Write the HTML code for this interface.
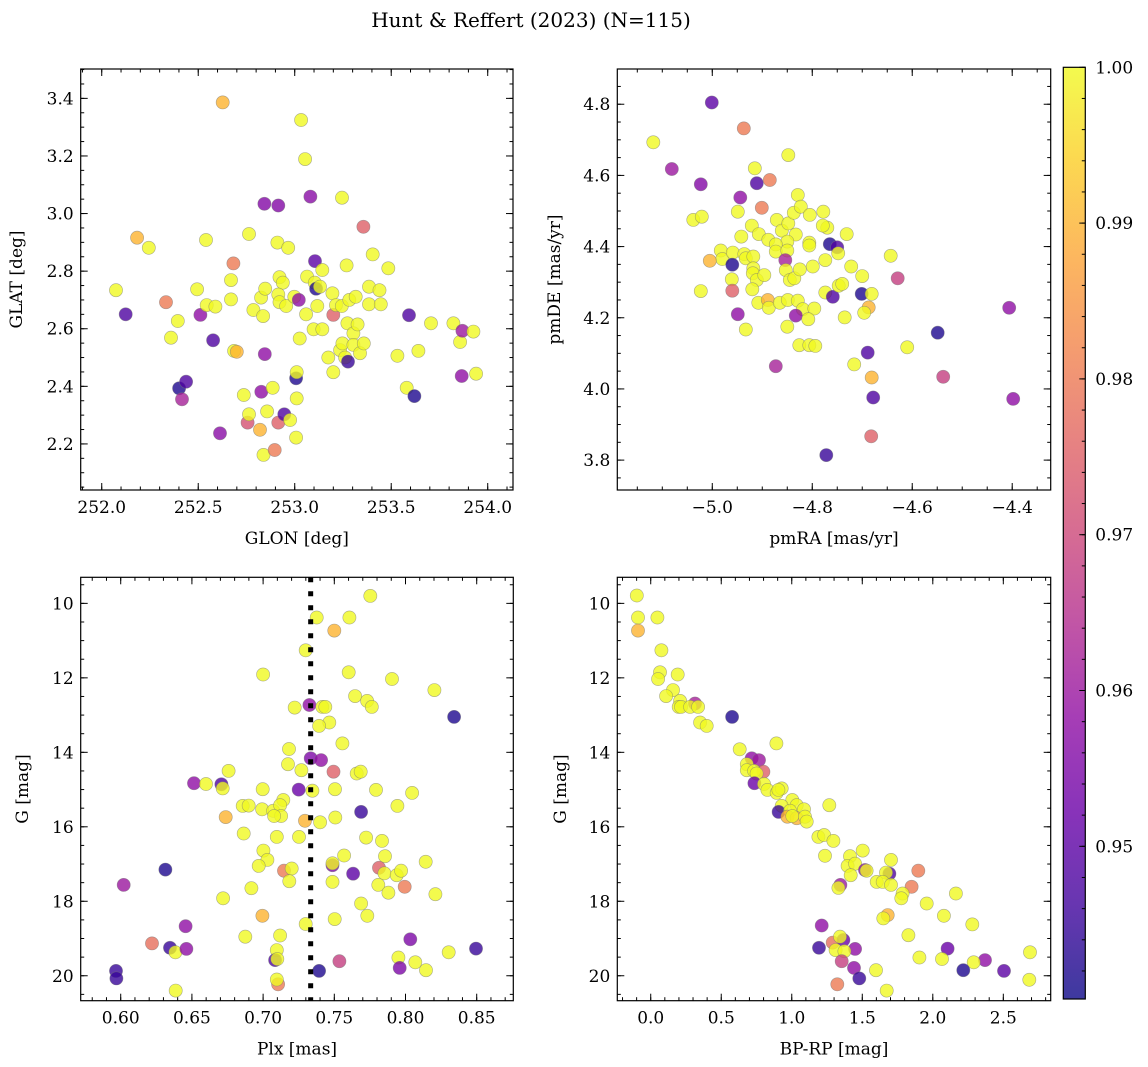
<!DOCTYPE html>
<html><head><meta charset="utf-8"><style>
html,body{margin:0;padding:0;background:#fff;}
svg{display:block;font-family:"DejaVu Serif","Liberation Serif",serif;}
</style></head><body>
<svg id="fig" width="1148" height="1067" viewBox="0 0 1148 1067" xmlns="http://www.w3.org/2000/svg">
<text x="531" y="27" font-size="20" text-anchor="middle">Hunt &amp; Reffert (2023) (N=115)</text>
</svg>
<script>
// ---- Panel A: GLON vs GLAT ----
const glonA=[252.074,252.124,252.183,252.244,252.333,252.394,252.359,252.401,252.437,252.416,252.494,252.511,252.540,252.544,252.589,252.577,252.613,252.627,252.670,252.670,252.682,252.686,252.700,252.736,252.756,252.763,252.763,252.786,252.826,252.836,252.847,252.843,252.845,252.827,252.820,252.838,252.857,252.886,252.896,252.915,252.910,252.921,252.938,252.915,252.921,252.956,252.966,252.915,252.946,252.976,252.998,253.021,253.007,253.010,253.010,253.007,253.026,253.033,253.054,253.059,253.064,253.081,253.098,253.104,253.111,253.131,253.117,253.105,253.143,253.143,253.174,253.195,253.200,253.200,253.214,253.244,253.245,253.235,253.247,253.261,253.276,253.269,253.273,253.283,253.304,253.304,253.316,253.326,253.338,253.356,253.358,253.385,253.385,253.404,253.439,253.446,253.485,253.532,253.580,253.592,253.620,253.641,253.706,253.822,253.857,253.869,253.865,253.926,253.940];
const glatA=[2.734,2.650,2.916,2.881,2.692,2.627,2.569,2.393,2.416,2.355,2.737,2.648,2.908,2.682,2.677,2.560,2.237,3.386,2.769,2.702,2.827,2.523,2.520,2.370,2.274,2.303,2.929,2.665,2.708,2.644,2.739,3.034,2.512,2.381,2.249,2.162,2.313,2.395,2.179,3.028,2.899,2.779,2.760,2.719,2.692,2.679,2.881,2.274,2.303,2.283,2.711,2.700,2.428,2.449,2.358,2.222,2.566,3.325,3.189,2.650,2.781,3.059,2.598,2.760,2.739,2.746,2.679,2.835,2.804,2.598,2.500,2.723,2.449,2.648,2.682,2.679,3.055,2.526,2.549,2.500,2.486,2.820,2.619,2.700,2.584,2.544,2.711,2.615,2.515,2.954,2.549,2.746,2.685,2.858,2.734,2.685,2.810,2.506,2.395,2.647,2.366,2.523,2.619,2.619,2.554,2.593,2.436,2.590,2.444];
const probA=[1,0.948,0.99,1,0.98,1,1,0.942,0.948,0.962,1,0.958,1,1,1,0.948,0.957,0.99,1,1,0.98,1,0.99,1,0.972,1,1,1,1,1,1,0.956,0.958,0.958,0.99,1,1,1,0.98,0.956,1,1,1,1,1,1,1,0.975,0.948,1,1,0.958,0.942,1,1,1,1,1,1,1,1,0.957,1,1,0.942,1,1,0.95,1,1,1,1,1,0.975,1,1,1,1,1,1,0.945,1,1,1,1,1,1,1,1,0.975,1,1,1,1,1,1,1,1,1,0.948,0.942,1,1,1,1,0.96,0.958,1,1];
// ---- Panel B: pmRA vs pmDE ----
const pmraB=[-5.118,-5.081,-5.023,-5.001,-4.937,-4.848,-4.915,-4.911,-4.885,-4.944,-4.901,-4.949,-5.038,-5.021,-4.921,-4.942,-4.907,-4.888,-4.871,-4.861,-4.848,-4.837,-4.829,-4.823,-4.833,-4.850,-4.873,-4.873,-4.850,-4.805,-4.778,-4.770,-4.779,-4.806,-4.806,-4.765,-4.750,-4.748,-4.731,-4.983,-4.980,-4.959,-4.936,-4.933,-4.918,-5.005,-4.960,-4.854,-4.918,-4.919,-4.911,-4.896,-4.961,-4.853,-4.845,-4.836,-4.825,-4.799,-4.774,-4.722,-4.700,-4.643,-4.629,-5.023,-4.960,-4.920,-4.774,-4.759,-4.747,-4.740,-4.701,-4.681,-4.908,-4.889,-4.887,-4.865,-4.849,-4.829,-4.819,-4.796,-4.687,-4.696,-4.949,-4.833,-4.808,-4.735,-4.850,-4.933,-4.826,-4.806,-4.794,-4.549,-4.406,-4.610,-4.689,-4.716,-4.873,-4.681,-4.538,-4.678,-4.398,-4.682,-4.772];
const pmdeB=[4.693,4.618,4.575,4.805,4.732,4.657,4.620,4.578,4.587,4.538,4.509,4.498,4.475,4.484,4.459,4.428,4.435,4.419,4.475,4.445,4.465,4.495,4.545,4.512,4.434,4.414,4.406,4.386,4.389,4.489,4.498,4.453,4.459,4.411,4.403,4.407,4.398,4.381,4.435,4.389,4.365,4.383,4.379,4.367,4.372,4.360,4.349,4.362,4.339,4.325,4.306,4.320,4.308,4.334,4.306,4.311,4.336,4.344,4.362,4.344,4.317,4.374,4.311,4.275,4.276,4.280,4.271,4.259,4.290,4.295,4.267,4.267,4.242,4.250,4.228,4.242,4.250,4.248,4.224,4.226,4.229,4.214,4.210,4.206,4.196,4.201,4.175,4.167,4.123,4.123,4.121,4.158,4.228,4.117,4.102,4.069,4.064,4.032,4.034,3.976,3.972,3.867,3.814];
const probB=[1,0.96,0.956,0.95,0.98,1,1,0.948,0.98,0.958,0.98,1,1,1,1,1,1,1,1,1,1,1,1,1,1,1,1,1,1,1,1,1,1,1,1,0.942,0.948,1,1,1,1,1,1,1,1,0.99,0.942,0.962,1,1,1,1,1,1,1,1,1,1,1,1,1,1,0.968,1,0.975,1,1,0.948,1,1,0.942,1,1,0.99,1,1,1,1,1,1,0.99,1,0.958,0.958,1,1,1,1,1,1,1,0.942,0.958,1,0.948,1,0.962,0.99,0.968,0.948,0.958,0.975,0.945];
// ---- Panel C: Plx vs G ----
const plxC=[0.7753,0.7376,0.7606,0.7500,0.7299,0.7000,0.7601,0.7905,0.8203,0.7646,0.7730,0.7763,0.7325,0.7222,0.7416,0.7437,0.8341,0.7465,0.7393,0.7557,0.7182,0.7334,0.7407,0.7175,0.6758,0.7269,0.7494,0.7657,0.7685,0.6515,0.6599,0.6707,0.6716,0.6997,0.7250,0.7346,0.7505,0.7793,0.8046,0.6857,0.6899,0.6993,0.7070,0.7142,0.7119,0.7126,0.7077,0.7943,0.7688,0.6737,0.7294,0.7400,0.7507,0.6864,0.7096,0.7252,0.7723,0.7835,0.7002,0.7569,0.7856,0.7030,0.6969,0.8142,0.6314,0.7487,0.7487,0.7147,0.7201,0.7184,0.7632,0.7814,0.7852,0.7938,0.7969,0.6021,0.7487,0.7809,0.7880,0.7994,0.8210,0.6918,0.6719,0.7688,0.7732,0.6995,0.7503,0.7299,0.6456,0.6875,0.7119,0.8034,0.6220,0.6346,0.6384,0.6461,0.7096,0.8303,0.8495,0.7084,0.7100,0.7536,0.7950,0.8069,0.5967,0.5970,0.7393,0.7959,0.8144,0.7105,0.7096,0.6386];
const gC=[9.80,10.38,10.38,10.73,11.26,11.91,11.85,12.03,12.33,12.49,12.62,12.78,12.73,12.80,12.78,12.78,13.05,13.20,13.29,13.76,13.91,14.16,14.21,14.32,14.50,14.48,14.52,14.57,14.52,14.83,14.85,14.86,14.97,14.99,15.00,15.03,14.99,15.01,15.09,15.44,15.43,15.53,15.57,15.28,15.42,15.71,15.71,15.44,15.60,15.74,15.84,15.88,15.75,16.18,16.27,16.27,16.29,16.38,16.64,16.77,16.79,16.89,17.05,16.94,17.15,17.03,16.98,17.18,17.12,17.46,17.26,17.10,17.25,17.30,17.18,17.56,17.48,17.56,17.77,17.61,17.81,17.65,17.92,18.06,18.39,18.39,18.48,18.61,18.67,18.95,18.92,19.02,19.13,19.25,19.37,19.28,19.31,19.37,19.27,19.58,19.55,19.61,19.51,19.64,19.87,20.07,19.87,19.79,19.85,20.23,20.10,20.40];
const probC=[1,1,1,0.99,1,1,1,1,1,1,1,1,0.958,1,1,1,0.942,1,1,1,1,0.955,0.958,1,1,1,0.975,1,1,0.958,1,0.948,1,1,0.952,1,1,1,1,1,1,1,1,1,1,1,1,1,0.945,0.99,0.99,1,1,1,1,1,1,1,1,1,1,1,1,1,0.942,0.955,1,0.98,1,1,0.95,0.975,1,1,1,0.96,1,1,1,0.98,1,1,1,1,1,0.99,1,1,0.958,1,1,0.955,0.978,0.945,1,0.958,1,1,0.945,0.948,1,0.968,1,1,0.945,0.945,0.942,0.955,1,0.98,1,1];
// ---- Panel D: BP-RP vs G ----
const bprpD=[-0.099,-0.090,-0.090,0.047,0.076,0.066,0.052,0.191,0.158,0.109,0.208,0.314,0.198,0.215,0.279,0.336,0.577,0.350,0.397,0.891,0.631,0.716,0.768,0.681,0.681,0.799,0.733,0.751,0.735,0.803,0.827,0.893,0.929,0.905,1.004,1.035,0.929,1.087,1.266,0.907,0.988,0.969,1.035,1.004,1.094,1.106,1.189,1.229,1.295,1.236,1.503,1.413,1.396,1.449,1.418,1.519,1.531,1.704,1.692,1.668,1.602,1.645,1.704,1.897,1.345,1.331,1.850,1.786,1.777,2.164,1.957,2.079,1.680,1.649,2.280,1.212,1.827,1.290,1.366,1.342,1.193,1.449,1.311,1.373,2.105,2.689,1.905,2.065,1.354,2.370,2.290,1.441,1.597,2.216,2.505,1.479,2.684,1.323,1.673];
const gD=[9.79,10.38,10.73,10.38,11.26,11.85,12.03,11.91,12.33,12.49,12.62,12.69,12.78,12.78,12.78,12.78,13.05,13.20,13.29,13.76,13.92,14.16,14.21,14.32,14.48,14.52,14.50,14.57,14.83,14.85,15.01,15.09,14.97,15.01,15.28,15.42,15.44,15.53,15.42,15.60,15.57,15.73,15.77,15.71,15.73,15.86,16.27,16.22,16.38,16.78,16.64,16.79,17.05,16.99,17.30,17.16,17.18,16.89,17.26,17.23,17.48,17.48,17.56,17.18,17.56,17.64,17.61,17.79,17.92,17.79,18.06,18.39,18.37,18.46,18.62,18.65,18.91,19.11,19.04,18.95,19.25,19.28,19.31,19.34,19.27,19.37,19.51,19.55,19.61,19.58,19.64,19.79,19.85,19.85,19.87,20.07,20.11,20.23,20.40];
const probD=[1,1,0.99,1,1,1,1,1,1,1,1,0.962,1,1,1,1,0.942,1,1,1,1,0.958,0.96,1,1,0.975,1,1,0.952,1,1,1,1,1,1,1,1,1,1,0.945,1,0.99,0.99,1,1,1,1,1,1,1,1,1,1,1,1,0.958,1,1,0.948,1,1,1,1,0.98,0.96,1,0.98,1,1,1,1,1,0.99,1,1,0.958,1,0.978,0.952,1,0.945,0.958,1,1,0.952,1,1,1,0.968,0.958,1,0.958,1,0.942,0.95,0.945,1,0.98,1];
// colorbar ticks
const cbarTicks=["0.95","0.96","0.97","0.98","0.99","1.00"];
const CMIN=0.9402, CMAX=1.0;

const NS="http://www.w3.org/2000/svg";
const svg=document.getElementById('fig');
function mk(tag,attrs,parent){const e=document.createElementNS(NS,tag);for(const k in attrs)e.setAttribute(k,attrs[k]);(parent||svg).appendChild(e);return e;}
const stops=[[0,[13,8,135]],[0.1,[65,4,157]],[0.2,[106,0,168]],[0.3,[143,13,164]],[0.4,[177,42,144]],[0.5,[204,71,120]],[0.6,[225,100,98]],[0.7,[242,132,75]],[0.8,[252,166,54]],[0.9,[252,206,37]],[1,[240,249,33]]];
function plasma(t){t=Math.max(0,Math.min(1,t));for(let i=1;i<stops.length;i++){if(t<=stops[i][0]){const a=stops[i-1],b=stops[i];const f=(t-a[0])/(b[0]-a[0]);const c=a[1].map((v,j)=>Math.round(v+(b[1][j]-v)*f));return 'rgb('+c.join(',')+')';}}return 'rgb(240,249,33)';}
function fmt(v,d){let s=v.toFixed(d);if(v<0)s='\u2212'+s.slice(1);return s;}

function panel(cfg){
  const g=mk('g',{});
  
  
  const L=cfg.L,R=cfg.R,T=cfg.T,B=cfg.B;
  const sx=v=>L+(v-cfg.x0)/(cfg.x1-cfg.x0)*(R-L);
  const sy=cfg.invY? (v=>T+(v-cfg.y1)/(cfg.y0-cfg.y1)*(B-T)) : (v=>B-(v-cfg.y0)/(cfg.y1-cfg.y0)*(B-T));
  const pts=mk('g',{},g);
  
  
  for(let i=0;i<cfg.xs.length;i++){
    const c=mk('circle',{cx:sx(cfg.xs[i]).toFixed(1),cy:sy(cfg.ys[i]).toFixed(1),r:6.6,fill:plasma((cfg.ps[i]-CMIN)/(CMAX-CMIN)),'fill-opacity':0.8,stroke:'#777','stroke-opacity':0.6,'stroke-width':0.6},pts);
    
    
  }
  if(cfg.vline!==undefined){
    const vl=mk('line',{x1:sx(cfg.vline),x2:sx(cfg.vline),y1:T,y2:B,stroke:'#000','stroke-width':5,'stroke-dasharray':'5 9'},g);
    
    
  }
  const tk=mk('g',{stroke:'#000','stroke-width':1},g);
  function ticks(a0,a1,step,len,isX,label,dec){
    const n0=Math.ceil(a0/step-1e-6),n1=Math.floor(a1/step+1e-6);
    for(let n=n0;n<=n1;n++){const v=n*step;
      if(isX){const x=sx(v);mk('line',{x1:x,x2:x,y1:B,y2:B-len},tk);mk('line',{x1:x,x2:x,y1:T,y2:T+len},tk);
        if(label){const t=mk('text',{x:x,y:B+23,'font-size':17,'text-anchor':'middle'},g);t.textContent=fmt(v,dec);}}
      else{const y=sy(v);mk('line',{x1:L,x2:L+len,y1:y,y2:y},tk);mk('line',{x1:R,x2:R-len,y1:y,y2:y},tk);
        if(label){const t=mk('text',{x:L-7,y:y+6,'font-size':17,'text-anchor':'end'},g);t.textContent=fmt(v,dec);}}
    }
  }
  ticks(cfg.x0,cfg.x1,cfg.xmaj,7,true,true,cfg.xdec);
  ticks(cfg.x0,cfg.x1,cfg.xmin,3.5,true,false);
  const ya=Math.min(cfg.y0,cfg.y1),yb=Math.max(cfg.y0,cfg.y1);
  ticks(ya,yb,cfg.ymaj,7,false,true,cfg.ydec);
  ticks(ya,yb,cfg.ymin,3.5,false,false);
  const fr=mk('rect',{x:L,y:T,width:R-L,height:B-T,fill:'none',stroke:'#000','stroke-width':1.2},g);
  
  
  const xl=mk('text',{x:(L+R)/2,y:B+54,'font-size':17,'text-anchor':'middle'},g);xl.textContent=cfg.xlab;
  
  
  const yx=cfg.ylx,yy=(T+B)/2;
  const yl=mk('text',{x:yx,y:yy,'font-size':17,'text-anchor':'middle',transform:'rotate(-90 '+yx+' '+yy+')'},g);yl.textContent=cfg.ylab;
  
  
}
panel({name:'glon-glat-panel',xs:glonA,ys:glatA,ps:probA,L:80.7,R:513,T:69,B:490,x0:251.891,x1:254.131,y0:2.040,y1:3.502,xmaj:0.5,xmin:0.1,ymaj:0.2,ymin:0.05,xdec:1,ydec:1,xlab:'GLON [deg]',ylab:'GLAT [deg]',ylx:22});
panel({name:'pm-panel',xs:pmraB,ys:pmdeB,ps:probB,L:617.3,R:1050.7,T:69,B:490,x0:-5.19,x1:-4.323,y0:3.716,y1:4.899,xmaj:0.2,xmin:0.05,ymaj:0.2,ymin:0.05,xdec:1,ydec:1,xlab:'pmRA [mas/yr]',ylab:'pmDE [mas/yr]',ylx:560});
panel({name:'plx-g-panel',xs:plxC,ys:gC,ps:probC,L:80.7,R:513.3,T:577.3,B:1000.7,x0:0.5719,x1:0.8757,y0:20.67,y1:9.30,invY:true,xmaj:0.05,xmin:0.01,ymaj:2,ymin:0.5,xdec:2,ydec:0,xlab:'Plx [mas]',ylab:'G [mag]',ylx:28,vline:0.7334});
panel({name:'cmd-panel',xs:bprpD,ys:gD,ps:probD,L:617.3,R:1050.7,T:577.3,B:1000.7,x0:-0.237,x1:2.836,y0:20.67,y1:9.30,invY:true,xmaj:0.5,xmin:0.1,ymaj:2,ymin:0.5,xdec:1,ydec:0,xlab:'BP-RP [mag]',ylab:'G [mag]',ylx:566});

// colorbar
const CT=67.3,CB=999,CL=1063.3,CR=1085.3;
const defs=mk('defs',{});
const lg=mk('linearGradient',{id:'cbg',x1:0,y1:1,x2:0,y2:0},defs);
for(const s of stops){mk('stop',{offset:s[0],'stop-color':'rgb('+s[1].join(',')+')','stop-opacity':0.8},lg);}
const cb=mk('g',{});


mk('rect',{x:CL,y:CT,width:CR-CL,height:CB-CT,fill:'url(#cbg)',stroke:'#000','stroke-width':1.2},cb);
const cy=v=>CB-(v-CMIN)/(CMAX-CMIN)*(CB-CT);
for(let k=0;k<cbarTicks.length;k++){const v=parseFloat(cbarTicks[k]);const y=cy(v);
  mk('line',{x1:CR,x2:CR-6,y1:y,y2:y,stroke:'#000'},cb);
  const t=mk('text',{x:CR+10,y:y+6,'font-size':17},cb);t.textContent=cbarTicks[k];
  
  
}
for(let n=Math.ceil(CMIN/0.002);n*0.002<=CMAX+1e-9;n++){const y=cy(n*0.002);mk('line',{x1:CR,x2:CR-3.5,y1:y,y2:y,stroke:'#000'},cb);}
</script>
</body></html>
